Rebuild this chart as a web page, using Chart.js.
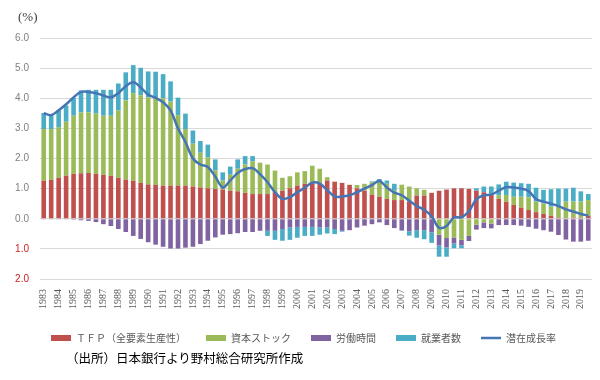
<!DOCTYPE html>
<html>
<head>
  <meta charset="utf-8">
  <title>潜在成長率の要因分解</title>
  <script src="https://cdn.jsdelivr.net/npm/chart.js"></script>
  <style>
    body { margin: 0; background: #fff; }
    #wrap { position: relative; width: 600px; height: 380px; }
    #source {
      position: absolute;
      left: 66px;
      top: 350px;
      font: 12.5px/16px "Noto Sans CJK JP", sans-serif;
      color: #000;
    }
  </style>
</head>
<body>
<div id="wrap">
  <canvas id="chart" width="600" height="380"></canvas>
  <div id="source">（出所）日本銀行より野村総合研究所作成</div>
</div>

<script>
  // years on the axis; each year has two half-year bars
  const years = ['1983', '1984', '1985', '1986', '1987', '1988', '1989', '1990', '1991', '1992',
    '1993', '1994', '1995', '1996', '1997', '1998', '1999', '2000', '2001', '2002',
    '2003', '2004', '2005', '2006', '2007', '2008', '2009', '2010', '2011', '2012',
    '2013', '2014', '2015', '2016', '2017', '2018', '2019'];
  const periods = years.flatMap(y => [y + 'H1', y + 'H2']);

  const tfp = [
    1.26, 1.29, 1.36, 1.43, 1.49, 1.51, 1.52, 1.49, 1.46, 1.42,
    1.36, 1.30, 1.26, 1.19, 1.14, 1.12, 1.10, 1.10, 1.10, 1.10,
    1.07, 1.04, 1.01, 0.99, 0.97, 0.93, 0.91, 0.86, 0.82, 0.82,
    0.82, 0.88, 0.93, 1.01, 1.10, 1.16, 1.18, 1.16, 1.27, 1.23,
    1.19, 1.12, 1.01, 0.93, 0.80, 0.73, 0.66, 0.62, 0.62, 0.57,
    0.77, 0.77, 0.86, 0.93, 0.97, 1.01, 1.01, 0.99, 0.93, 0.88,
    0.82, 0.66, 0.56, 0.46, 0.37, 0.29, 0.22, 0.16, 0.10, 0.04,
    0.02, 0.04, 0.03, 0.09];
  const capital = [
    1.72, 1.69, 1.68, 1.79, 1.93, 2.02, 2.01, 2.00, 1.96, 2.00,
    2.23, 2.63, 2.91, 2.91, 2.89, 2.89, 2.90, 2.79, 2.34, 1.88,
    1.42, 1.15, 1.03, 0.61, 0.30, 0.53, 0.75, 0.94, 1.09, 1.04,
    0.98, 0.72, 0.43, 0.40, 0.44, 0.42, 0.58, 0.50, 0.11, 0.00,
    0.00, 0.01, 0.11, 0.23, 0.41, 0.50, 0.50, 0.31, 0.51, 0.50,
    0.24, 0.19, 0.00, -0.53, -0.64, -0.62, -0.70, -0.57, -0.20, -0.12,
    -0.16, 0.12, 0.23, 0.27, 0.36, 0.42, 0.35, 0.35, 0.30, 0.36,
    0.55, 0.53, 0.54, 0.53];
  const hours = [
    -0.01, -0.01, -0.01, -0.01, -0.03, -0.05, -0.07, -0.11, -0.18, -0.24,
    -0.34, -0.44, -0.57, -0.67, -0.78, -0.86, -0.93, -0.99, -0.99, -0.96,
    -0.93, -0.84, -0.73, -0.62, -0.53, -0.51, -0.48, -0.44, -0.44, -0.40,
    -0.40, -0.40, -0.34, -0.29, -0.27, -0.27, -0.27, -0.29, -0.29, -0.34,
    -0.40, -0.38, -0.29, -0.23, -0.18, -0.12, -0.21, -0.31, -0.38, -0.42,
    -0.38, -0.38, -0.45, -0.36, -0.31, -0.20, -0.18, -0.17, -0.16, -0.19,
    -0.16, -0.21, -0.21, -0.21, -0.23, -0.27, -0.33, -0.38, -0.43, -0.54,
    -0.69, -0.76, -0.76, -0.73];
  const employed = [
    0.53, 0.46, 0.56, 0.54, 0.59, 0.73, 0.75, 0.79, 0.86, 0.86,
    0.90, 0.93, 0.93, 0.91, 0.86, 0.87, 0.80, 0.67, 0.58, 0.51,
    0.44, 0.39, 0.42, 0.37, 0.27, 0.27, 0.31, 0.28, 0.17, 0.00,
    -0.17, -0.30, -0.39, -0.41, -0.36, -0.30, -0.30, -0.24, -0.20, -0.17,
    -0.03, 0.00, 0.00, 0.00, 0.03, 0.09, 0.11, 0.23, -0.02, -0.14,
    -0.25, -0.30, -0.35, -0.37, -0.31, -0.16, -0.10, 0.00, 0.08, 0.19,
    0.25, 0.36, 0.44, 0.47, 0.45, 0.45, 0.46, 0.45, 0.58, 0.60,
    0.43, 0.46, 0.34, 0.20];
  const potential = [
    3.50, 3.44, 3.60, 3.80, 4.03, 4.21, 4.21, 4.17, 4.09, 4.03,
    4.17, 4.40, 4.53, 4.36, 4.12, 4.01, 3.87, 3.60, 3.00, 2.55,
    2.00, 1.80, 1.72, 1.40, 1.04, 1.27, 1.52, 1.65, 1.68, 1.48,
    1.21, 0.88, 0.66, 0.72, 0.88, 1.03, 1.20, 1.17, 0.95, 0.74,
    0.74, 0.78, 0.88, 1.00, 1.12, 1.25, 1.04, 0.87, 0.78, 0.60,
    0.42, 0.30, 0.08, -0.30, -0.24, 0.04, 0.05, 0.25, 0.65, 0.78,
    0.80, 0.93, 1.05, 1.04, 1.00, 0.92, 0.65, 0.57, 0.50, 0.42,
    0.31, 0.24, 0.16, 0.10];

  Chart.defaults.font.family = '"Noto Sans CJK JP", sans-serif';
  Chart.defaults.color = '#595959';

  // "(%)" unit mark above the y axis
  const unitLabel = {
    id: 'unitLabel',
    afterDraw(c) {
      const ctx = c.ctx;
      ctx.save();
      ctx.font = '13px "Liberation Serif"';
      ctx.fillStyle = '#404040';
      ctx.textBaseline = 'middle';
      ctx.fillText('(%)', 18, 18);
      ctx.restore();
    }
  };

  const barOpts = { order: 1, barPercentage: 0.62, categoryPercentage: 1.0, borderWidth: 0 };

  new Chart(document.getElementById('chart'), {
    type: 'bar',
    data: {
      labels: periods,
      datasets: [
        { label: 'ＴＦＰ（全要素生産性）', data: tfp, backgroundColor: '#c0504d', ...barOpts },
        { label: '資本ストック', data: capital, backgroundColor: '#9bbb59', ...barOpts },
        { label: '労働時間', data: hours, backgroundColor: '#8064a2', ...barOpts },
        { label: '就業者数', data: employed, backgroundColor: '#4bacc6', ...barOpts },
        {
          type: 'line', label: '潜在成長率', data: potential, stack: 'line', order: 0,
          borderColor: '#4675b5', backgroundColor: '#4675b5', borderWidth: 2.5,
          pointRadius: 0, tension: 0.35
        }
      ]
    },
    options: {
      responsive: false,
      animation: false,
      devicePixelRatio: 1,
      layout: { padding: { top: 38, left: 15, right: 8, bottom: 27 } },
      plugins: {
        tooltip: { enabled: false },
        legend: {
          position: 'bottom',
          labels: {
            usePointStyle: true,
            pointStyleWidth: 20,
            boxHeight: 6,
            padding: 20,
            color: '#595959',
            font: { size: 10 },
            generateLabels(chart) {
              const items = Chart.defaults.plugins.legend.labels.generateLabels(chart);
              items.forEach(it => {
                it.pointStyle = it.datasetIndex === 4 ? 'line' : 'rect';
                if (it.datasetIndex !== 4) it.lineWidth = 0;
              });
              return items.sort((a, b) => a.datasetIndex - b.datasetIndex);
            }
          }
        }
      },
      scales: {
        x: {
          stacked: true,
          grid: { display: false, drawTicks: false },
          border: { display: false },
          ticks: {
            autoSkip: false,
            minRotation: 90,
            maxRotation: 90,
            padding: 10,
            color: '#595959',
            font: { family: '"Liberation Serif"', size: 10 },
            callback: (v, i) => (i % 2 === 0 ? years[i / 2] : '')
          },
          afterFit: s => {
            s.height = 34;
            s.paddingLeft = 0;
            s.paddingRight = 0;
          }
        },
        y: {
          stacked: true,
          min: -2,
          max: 6,
          grid: { color: '#d9d9d9', drawTicks: false },
          border: { display: false },
          ticks: {
            stepSize: 1,
            padding: 11,
            font: { family: '"Liberation Sans"', size: 10 },
            color: c => (c.tick.value < 0 ? '#d02020' : '#808080'),
            callback: v => Math.abs(v).toFixed(1)
          },
          afterFit: s => { s.width = 25; }
        }
      }
    },
    plugins: [unitLabel]
  });
</script>
</body>
</html>
